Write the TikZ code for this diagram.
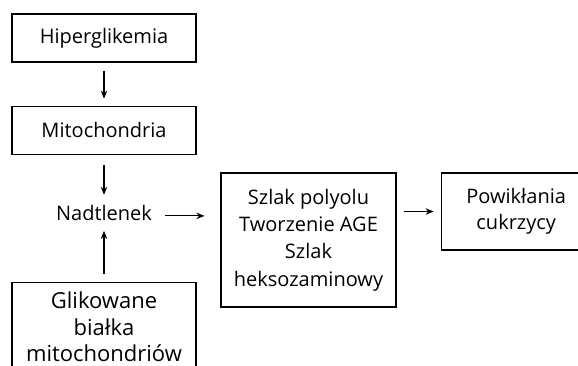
\documentclass[tikz,border=0pt]{standalone}
\usepackage{fontspec}
\setmainfont{Open Sans}
\usetikzlibrary{positioning}
\usetikzlibrary{arrows.meta}
\tikzset{box/.style={draw,line width=1.2pt,minimum width=184pt,minimum height=48pt,inner sep=0pt,align=center,font=\fontsize{20}{27.4}\selectfont},
  label text/.style={inner sep=0pt,text height=15pt,text depth=5pt,font=\fontsize{20}{27.4}\selectfont},}
\begin{document}
\begin{tikzpicture}[->, >={Stealth[length=8pt,width=6.5pt]}, x=1pt, y=-1pt, line width=1.2pt]
	\clip (0,0) rectangle (578,366);
	\node[box] (hip) at (104,38) {Hiperglikemia};
	\node[box] (mit) [below = 43pt of hip] {Mitochondria};
	\node[label text] (nad) [below = 50.5pt of mit] {Nadtlenek};
	\node[box, minimum height=89pt, font=\fontsize{22}{26.4}\selectfont] (glik) [below = 55.5pt of nad] {Glikowane\\białka\\mitochondriów};
	\node[box, minimum width=175pt, minimum height=134pt] (sz) at (308.5,240) {Szlak polyolu\\Tworzenie AGE\\Szlak\\heksozaminowy};
	\node[box, minimum width=150pt, minimum height=77pt, font=\fontsize{20}{26}\selectfont] (pow) [right = 44pt of sz.north east, anchor=north west] {Powikłania\\cukrzycy};

	\draw[shorten <=8pt, shorten >=7pt] (hip) -- (mit);
	\draw[shorten <=10pt, shorten >=10.5pt] (mit) -- (nad);
	\draw[shorten <=8pt, shorten >=4.5pt] (glik) -- (nad);
	\draw[shorten <=13pt, shorten >=16pt] (nad) -- (nad -| sz.west);
	\draw[shorten <=7pt, shorten >=7pt] (sz.east |- pow) -- (pow);
\end{tikzpicture}
\end{document}
